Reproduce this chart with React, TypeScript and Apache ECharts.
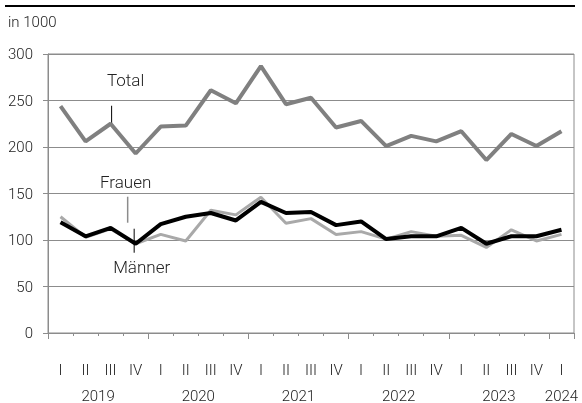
import React, { useEffect, useRef } from "react";
import * as echarts from "echarts";

const quarterLabels = ["I","II","III","IV","I","II","III","IV","I","II","III","IV","I","II","III","IV","I","II","III","IV","I"];
const quarterYears = ["2019","2019","2019","2019","2020","2020","2020","2020","2021","2021","2021","2021","2022","2022","2022","2022","2023","2023","2023","2023","2024"];
const total = [244, 206, 225, 193, 222, 223, 261, 247, 287, 246, 253, 221, 228, 201, 212, 206, 217, 186, 214, 201, 217];
const frauen = [125, 103, 112, 96, 106, 99, 132, 127, 146, 118, 123, 106, 109, 101, 109, 104, 105, 92, 111, 99, 106];
const maenner = [119, 104, 113, 96, 117, 125, 129, 121, 141, 129, 130, 116, 120, 101, 104, 104, 113, 96, 104, 104, 111];
const yAxisMin = 0;
const yAxisMax = 300;
const yAxisStep = 50;

const FONT = "Roboto";

export default function App() {
  const ref = useRef<HTMLDivElement>(null);
  useEffect(() => {
    if (!ref.current) return;
    const chart = echarts.init(ref.current, null, { renderer: "svg" });
    const n = quarterLabels.length;
    const yearNames: string[] = [];
    const yearCenters: Record<string, string> = {};
    quarterYears.forEach((y) => { if (!yearNames.includes(y)) yearNames.push(y); });
    yearNames.forEach((y) => {
      const idx = quarterYears.map((q, i) => (q === y ? i : -1)).filter((i) => i >= 0);
      yearCenters[(idx.reduce((a, b) => a + b, 0) / idx.length).toFixed(1)] = y;
    });
    const yearStart = (i: number) => i === 0 || quarterYears[i] !== quarterYears[i - 1];

    const gray = "#8c8c8c";
    chart.setOption({
      animation: false,
      grid: { left: 48, right: 8, top: 54, bottom: 69, show: true, borderColor: gray, borderWidth: 1 },
      xAxis: [
        {
          type: "category",
          data: quarterLabels,
          boundaryGap: true,
          axisLine: { show: true, lineStyle: { color: gray, width: 1 } },
          axisTick: { show: true, interval: 0, length: 3, lineStyle: { color: gray } },
          axisLabel: { interval: 0, margin: 29, color: "#222", fontFamily: FONT, fontSize: 15, fontWeight: 300 },
          splitLine: { show: false },
        },
        {
          type: "category",
          data: quarterLabels,
          boundaryGap: true,
          position: "bottom",
          axisLine: { show: false },
          axisTick: { show: true, length: 6, interval: (i: number) => yearStart(i), lineStyle: { color: gray } },
          axisLabel: { show: false },
          splitLine: { show: false },
        },
        {
          type: "value",
          min: -0.5,
          max: n - 0.5,
          interval: 0.5,
          position: "bottom",
          axisLine: { show: false, onZero: false },
          axisTick: { show: false },
          splitLine: { show: false },
          axisLabel: {
            margin: 55,
            color: "#222",
            fontFamily: FONT,
            fontSize: 15,
            fontWeight: 300,
            showMinLabel: true,
            showMaxLabel: true,
            formatter: (v: number) => yearCenters[v.toFixed(1)] || "",
          },
        },
      ],
      yAxis: {
        type: "value",
        min: yAxisMin,
        max: yAxisMax,
        interval: yAxisStep,
        axisLine: { show: true, onZero: false, lineStyle: { color: gray } },
        axisTick: { show: true, length: 5, lineStyle: { color: gray } },
        splitLine: { show: true, lineStyle: { color: gray, width: 1 } },
        axisLabel: { margin: 15, color: "#222", fontFamily: FONT, fontSize: 15, fontWeight: 300 },
      },
      series: [
        { name: "Total", type: "line", data: total, symbol: "none", lineStyle: { color: "#808080", width: 4 }, z: 3 },
        { name: "Frauen", type: "line", data: frauen, symbol: "none", lineStyle: { color: "#a9a9a9", width: 3 }, z: 4 },
        { name: "Männer", type: "line", data: maenner, symbol: "none", lineStyle: { color: "#000", width: 4 }, z: 5 },
      ],
    });

    const pT = chart.convertToPixel({ xAxisIndex: 0, yAxisIndex: 0 }, [2, total[2]]) as number[];
    const pM = chart.convertToPixel({ xAxisIndex: 0, yAxisIndex: 0 }, [3, maenner[3]]) as number[];
    const textStyle = { fill: "#222", font: `300 17px ${FONT}`, textAlign: "center", textVerticalAlign: "middle" };
    chart.setOption({
      graphic: [
        { type: "line", shape: { x1: 5, y1: 6, x2: 575, y2: 6 }, style: { stroke: "#000", lineWidth: 2 } },
        { type: "text", x: 8, y: 22, style: { text: "in 1000", fill: "#222", font: `300 15px ${FONT}`, textVerticalAlign: "middle" } },
        { type: "text", x: pT[0] + 15, y: pT[1] - 44, style: { ...textStyle, text: "Total" } },
        { type: "line", shape: { x1: pT[0] + 1, y1: pT[1] - 18, x2: pT[0] + 1, y2: pT[1] }, style: { stroke: "#000", lineWidth: 1 } },
        { type: "text", x: pM[0] - 10, y: pM[1] - 62, style: { ...textStyle, text: "Frauen" } },
        { type: "line", shape: { x1: pM[0] - 8, y1: pM[1] - 47, x2: pM[0] - 8, y2: pM[1] - 21 }, style: { stroke: "#8c8c8c", lineWidth: 1.5 } },
        { type: "text", x: pM[0] + 6, y: pM[1] + 23, style: { ...textStyle, text: "Männer" } },
        { type: "line", shape: { x1: pM[0] - 1.5, y1: pM[1] - 15, x2: pM[0] - 1.5, y2: pM[1] + 9 }, style: { stroke: "#000", lineWidth: 1 } },
      ],
    });
    return () => chart.dispose();
  }, []);
  return <div ref={ref} style={{ position: "fixed", left: 0, top: 0, width: 582, height: 403 }} />;
}
